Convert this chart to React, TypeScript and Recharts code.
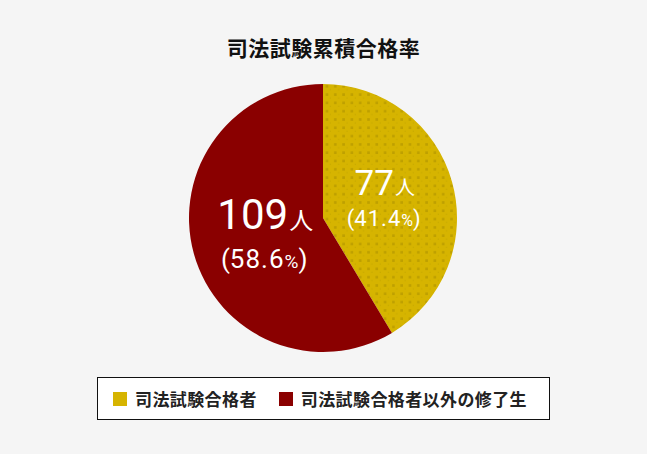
import React from "react";
import { PieChart, Pie, Cell } from "recharts";

const categories = ["司法試験合格者", "司法試験合格者以外の修了生"];
const counts = [77, 109];
const percentLabels = ["41.4", "58.6"];
const unitLabel = "人";
const titleText = "司法試験累積合格率";

const data = categories.map((name, i) => ({ name, value: counts[i], pct: percentLabels[i] }));

const COLORS = ["url(#dotYellow)", "#8a0000"];
const LEGEND_COLORS = ["#d6b400", "#8a0000"];
const RAD = Math.PI / 180;

const labelStyle = [
  { num: 35, unit: 20, pct: 22, pctSign: 16, dy1: -6, dy2: 25 },
  { num: 42, unit: 24, pct: 26, pctSign: 19, dy1: -6, dy2: 33 },
];

const renderLabel = (props: any) => {
  const { cx, cy, midAngle, index } = props;
  const r = 62;
  const x = cx + r * Math.cos(-midAngle * RAD);
  const y = cy + r * Math.sin(-midAngle * RAD);
  const s = labelStyle[index];
  const d = data[index];
  return (
    <g>
      <text
        x={x + 2}
        y={y + s.dy1}
        textAnchor="middle"
        fill="#ffffff"
        fontFamily="Roboto, 'Noto Sans CJK JP', sans-serif"
      >
        <tspan fontSize={s.num}>{d.value}</tspan>
        <tspan fontSize={s.unit} fontFamily="'Noto Sans CJK JP', sans-serif" dx={1}>
          {unitLabel}
        </tspan>
      </text>
      <text
        x={x + 1}
        y={y + s.dy2}
        textAnchor="middle"
        fill="#ffffff"
        fontFamily="Roboto, sans-serif"
        fontSize={s.pct}
      >
        <tspan>(</tspan>
        <tspan letterSpacing={1}>{d.pct}</tspan>
        <tspan fontSize={s.pctSign}>%</tspan>
        <tspan>)</tspan>
      </text>
    </g>
  );
};

export default function App() {
  return (
    <div
      style={{
        position: "absolute",
        left: 0,
        top: 0,
        width: 647,
        height: 454,
        background: "#f5f5f5",
        fontFamily: "'Noto Sans CJK JP', sans-serif",
      }}
    >
      <div
        style={{
          position: "absolute",
          left: 0,
          top: 33,
          width: 647,
          textAlign: "center",
          fontSize: 21,
          fontWeight: 700,
          color: "#111",
          lineHeight: "28px",
          letterSpacing: 0.5,
        }}
      >
        {titleText}
      </div>
      <div style={{ position: "absolute", left: 0, top: 0 }}>
        <PieChart width={647} height={454} margin={{ top: 0, left: 0, right: 0, bottom: 0 }}>
          <defs>
            <pattern id="dotYellow" patternUnits="userSpaceOnUse" width="8.3" height="8.3">
              <rect x="0" y="0" width="8.3" height="8.3" fill="#d6b400" />
              <rect x="2" y="2" width="2.6" height="2.6" fill="#bea000" />
              <rect x="6.15" y="6.15" width="1.2" height="1.2" fill="#c9aa00" />
            </pattern>
          </defs>
          <Pie
            data={data}
            dataKey="value"
            nameKey="name"
            cx={323}
            cy={218}
            outerRadius={134}
            startAngle={90}
            endAngle={-270}
            stroke="none"
            label={renderLabel}
            labelLine={false}
            isAnimationActive={false}
          >
            {data.map((d, i) => (
              <Cell key={d.name} fill={COLORS[i]} />
            ))}
          </Pie>
        </PieChart>
      </div>
      <div
        style={{
          position: "absolute",
          left: 97,
          top: 377,
          width: 451,
          height: 41,
          background: "#ffffff",
          border: "1px solid #111",
          display: "flex",
          alignItems: "center",
        }}
      >
        {categories.map((c, i) => (
          <div
            key={c}
            style={{
              display: "flex",
              alignItems: "center",
              marginLeft: i === 0 ? 15 : 22,
            }}
          >
            <span
              style={{
                display: "inline-block",
                width: 14,
                height: 14,
                background: LEGEND_COLORS[i],
                marginRight: 8,
              }}
            />
            <span
              style={{
                fontSize: 17,
                fontWeight: 700,
                color: "#222",
                letterSpacing: 0.4,
                lineHeight: "20px",
              }}
            >
              {c}
            </span>
          </div>
        ))}
      </div>
    </div>
  );
}
